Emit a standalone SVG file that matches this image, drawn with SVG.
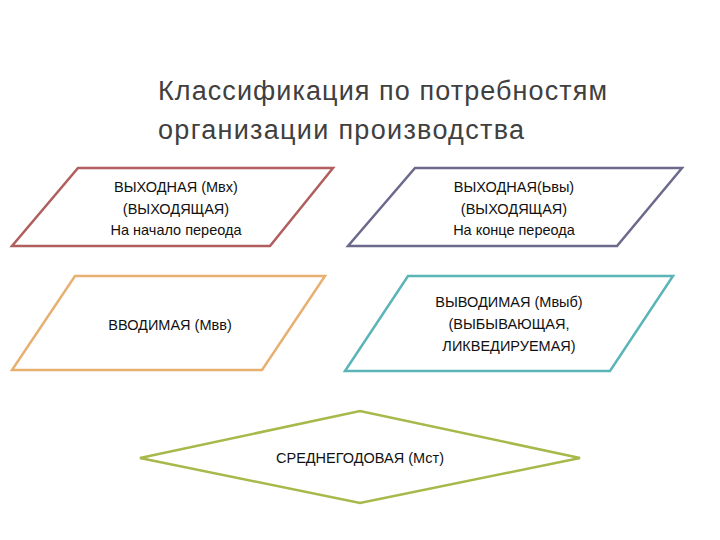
<svg xmlns="http://www.w3.org/2000/svg" width="720" height="540" viewBox="0 0 720 540">
<style>
.s{fill:#fff;stroke-width:2.5}
.t{font-family:"Liberation Sans",Arial,sans-serif;font-size:14.5px;fill:#111;text-anchor:middle}
.h{font-family:"Liberation Sans",Arial,sans-serif;font-size:27px;fill:#404040}
</style>
<rect width="720" height="540" fill="#fff"/>
<g id="title"><text class="h" x="158" y="100" textLength="449">Классификация по потребностям</text><text class="h" x="158" y="139" textLength="366">организации производства</text></g>
<g id="n1"><polygon class="s" stroke="#b05e5e" points="78,168 333,168 270,246 12,246"/>
<text class="t" x="176" y="192">ВЫХОДНАЯ (Мвх)</text><text class="t" x="176" y="214">(ВЫХОДЯЩАЯ)</text><text class="t" x="176" y="235">На начало переода</text></g>
<g id="n2"><polygon class="s" stroke="#6c6a8c" points="415,168 682,168 617,246 348,246"/>
<text class="t" x="514" y="192">ВЫХОДНАЯ(Ьвы)</text><text class="t" x="514" y="214">(ВЫХОДЯЩАЯ)</text><text class="t" x="514" y="235">На конце переода</text></g>
<g id="n3"><polygon class="s" stroke="#e8b070" points="75,276 325,276 262,370 12,370"/>
<text class="t" x="170" y="330">ВВОДИМАЯ (Мвв)</text></g>
<g id="n4"><polygon class="s" stroke="#5ab4b8" points="408,276 673,276 610,371 345,371"/>
<text class="t" x="509" y="307">ВЫВОДИМАЯ (Мвыб)</text><text class="t" x="509" y="329">(ВЫБЫВАЮЩАЯ,</text><text class="t" x="509" y="351">ЛИКВЕДИРУЕМАЯ)</text></g>
<g id="n5"><polygon class="s" stroke="#a8b84a" points="140,458 360,411 580,458 360,503"/>
<text class="t" x="360" y="463">СРЕДНЕГОДОВАЯ (Мст)</text></g>
<g id="connectors"/>
</svg>
